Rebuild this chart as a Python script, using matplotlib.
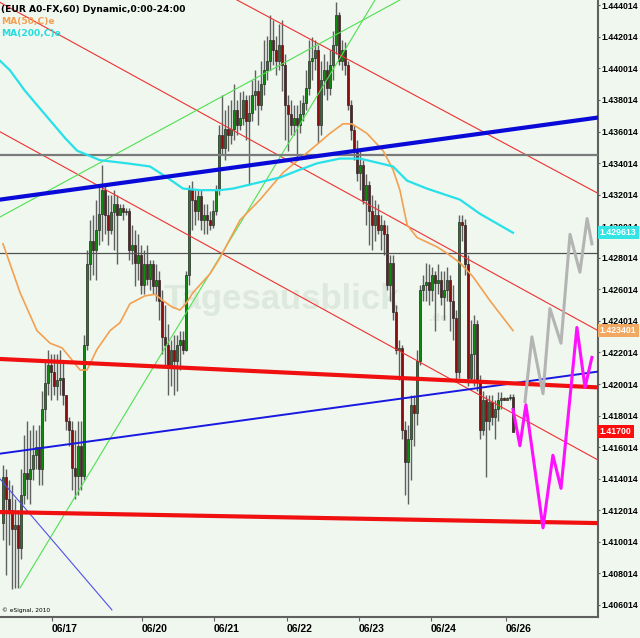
import matplotlib
matplotlib.use("Agg")
import matplotlib.pyplot as plt
import matplotlib.transforms as mtransforms

# hourly EUR/USD candles, one per hour (x = candle index)
first_open = 1.4112
closes = [1.4141, 1.4127, 1.4120, 1.4108, 1.4111, 1.4096, 1.4130, 1.4144, 1.4140, 1.4146,
          1.4155, 1.4160, 1.4146, 1.4184, 1.4201, 1.4212, 1.4208, 1.4199, 1.4203, 1.4204,
          1.4193, 1.4177, 1.4171, 1.4147, 1.4142, 1.4161, 1.4142, 1.4225, 1.4276, 1.4291,
          1.4285, 1.4298, 1.4308, 1.4323, 1.4307, 1.4298, 1.4309, 1.4314, 1.4307, 1.4312,
          1.4309, 1.4310, 1.4285, 1.4288, 1.4277, 1.4282, 1.4263, 1.4276, 1.4267, 1.4276,
          1.4262, 1.4266, 1.4253, 1.4230, 1.4225, 1.4211, 1.4222, 1.4215, 1.4225, 1.4228,
          1.4222, 1.4269, 1.4323, 1.4317, 1.4310, 1.4319, 1.4304, 1.4307, 1.4304, 1.4301,
          1.4310, 1.4323, 1.4358, 1.4350, 1.4362, 1.4358, 1.4362, 1.4374, 1.4364, 1.4369,
          1.4380, 1.4367, 1.4372, 1.4383, 1.4386, 1.4377, 1.4390, 1.4399, 1.4405, 1.4418,
          1.4412, 1.4405, 1.4415, 1.4402, 1.4377, 1.4371, 1.4364, 1.4369, 1.4364, 1.4371,
          1.4378, 1.4388, 1.4405, 1.4407, 1.4412, 1.4364, 1.4393, 1.4399, 1.4388, 1.4402,
          1.4415, 1.4434, 1.4405, 1.4412, 1.4402, 1.4377, 1.4361, 1.4348, 1.4334, 1.4339,
          1.4317, 1.4326, 1.4310, 1.4301, 1.4307, 1.4298, 1.4301, 1.4295, 1.4263, 1.4277,
          1.4246, 1.4222, 1.4223, 1.4171, 1.4151, 1.4165, 1.4187, 1.4182, 1.4215, 1.4260,
          1.4263, 1.4265, 1.4260, 1.4269, 1.4264, 1.4266, 1.4255, 1.4260, 1.4266, 1.4253,
          1.4242, 1.4208, 1.4303, 1.4301, 1.4276, 1.4204, 1.4219, 1.4238, 1.4203, 1.4171,
          1.4190, 1.4177, 1.4189, 1.4179, 1.4184, 1.4190, 1.4191, 1.4190, 1.4191, 1.4192, 1.4170]
highs = [1.4149, 1.4146, 1.4139, 1.4136, 1.4127, 1.4120, 1.4146, 1.4168, 1.4177, 1.4171,
         1.4174, 1.4171, 1.4174, 1.4196, 1.4215, 1.4222, 1.4219, 1.4219, 1.4219, 1.4222,
         1.4215, 1.4193, 1.4179, 1.4177, 1.4171, 1.4177, 1.4177, 1.4231, 1.4285, 1.4304,
         1.4307, 1.4317, 1.4326, 1.4339, 1.4326, 1.4320, 1.4320, 1.4323, 1.4320, 1.4314,
         1.4314, 1.4312, 1.4312, 1.4301, 1.4298, 1.4295, 1.4288, 1.4285, 1.4288, 1.4279,
         1.4279, 1.4276, 1.4272, 1.4260, 1.4250, 1.4238, 1.4228, 1.4231, 1.4231, 1.4234,
         1.4234, 1.4272, 1.4326, 1.4329, 1.4323, 1.4323, 1.4323, 1.4314, 1.4314, 1.4310,
         1.4317, 1.4326, 1.4364, 1.4383, 1.4374, 1.4377, 1.4380, 1.4390, 1.4380, 1.4385,
         1.4386, 1.4383, 1.4383, 1.4393, 1.4399, 1.4393, 1.4405, 1.4418, 1.4421, 1.4434,
         1.4431, 1.4421, 1.4428, 1.4431, 1.4409, 1.4383, 1.4380, 1.4377, 1.4377, 1.4380,
         1.4383, 1.4399, 1.4418, 1.4420, 1.4418, 1.4415, 1.4405, 1.4409, 1.4405, 1.4412,
         1.4424, 1.4442, 1.4436, 1.4418, 1.4417, 1.4405, 1.4380, 1.4364, 1.4355, 1.4348,
         1.4342, 1.4333, 1.4329, 1.4320, 1.4317, 1.4314, 1.4307, 1.4304, 1.4301, 1.4282,
         1.4282, 1.4250, 1.4228, 1.4225, 1.4177, 1.4174, 1.4193, 1.4193, 1.4222, 1.4263,
         1.4269, 1.4277, 1.4276, 1.4274, 1.4272, 1.4276, 1.4272, 1.4272, 1.4274, 1.4269,
         1.4263, 1.4247, 1.4307, 1.4307, 1.4305, 1.4282, 1.4241, 1.4244, 1.4241, 1.4206,
         1.4196, 1.4193, 1.4193, 1.4193, 1.4190, 1.4195, 1.4195, 1.4192, 1.4192, 1.4194, 1.4194]
lows = [1.4101, 1.4079, 1.4098, 1.4070, 1.4071, 1.4071, 1.4089, 1.4124, 1.4127, 1.4124,
        1.4139, 1.4146, 1.4136, 1.4136, 1.4177, 1.4193, 1.4190, 1.4193, 1.4190, 1.4193,
        1.4187, 1.4171, 1.4161, 1.4133, 1.4127, 1.4130, 1.4133, 1.4139, 1.4222, 1.4266,
        1.4269, 1.4266, 1.4288, 1.4291, 1.4295, 1.4288, 1.4295, 1.4285, 1.4276, 1.4307,
        1.4304, 1.4307, 1.4279, 1.4276, 1.4262, 1.4266, 1.4257, 1.4257, 1.4263, 1.4260,
        1.4257, 1.4253, 1.4241, 1.4219, 1.4212, 1.4193, 1.4199, 1.4193, 1.4196, 1.4209,
        1.4219, 1.4221, 1.4263, 1.4298, 1.4301, 1.4304, 1.4298, 1.4295, 1.4295, 1.4298,
        1.4299, 1.4307, 1.4320, 1.4345, 1.4342, 1.4348, 1.4352, 1.4355, 1.4358, 1.4361,
        1.4364, 1.4355, 1.4326, 1.4367, 1.4374, 1.4364, 1.4374, 1.4383, 1.4393, 1.4399,
        1.4402, 1.4396, 1.4399, 1.4386, 1.4355, 1.4348, 1.4358, 1.4358, 1.4343, 1.4359,
        1.4367, 1.4374, 1.4383, 1.4393, 1.4399, 1.4353, 1.4358, 1.4383, 1.4380, 1.4383,
        1.4393, 1.4409, 1.4402, 1.4399, 1.4396, 1.4374, 1.4355, 1.4342, 1.4329, 1.4323,
        1.4314, 1.4301, 1.4288, 1.4285, 1.4291, 1.4295, 1.4285, 1.4282, 1.4260, 1.4253,
        1.4241, 1.4219, 1.4203, 1.4165, 1.4130, 1.4124, 1.4139, 1.4161, 1.4174, 1.4212,
        1.4253, 1.4253, 1.4250, 1.4253, 1.4234, 1.4257, 1.4250, 1.4241, 1.4253, 1.4234,
        1.4228, 1.4203, 1.4204, 1.4291, 1.4269, 1.4199, 1.4203, 1.4199, 1.4196, 1.4165,
        1.4168, 1.4141, 1.4171, 1.4174, 1.4165, 1.4177, 1.4184, 1.4190, 1.4190, 1.4190, 1.4170]

# moving averages (candle index, price)
ma50_x = [0, 5.7, 11.3, 15.7, 19.7, 22.3, 25.7, 28, 31.3, 35.7, 39, 42.3, 47.3, 50.7, 53.3,
          56.3, 59, 61.3, 63.3, 69, 72.3, 79, 85.7, 93.3, 99, 104.7, 109, 113.3, 116.3,
          121.3, 126.7, 130, 132.3, 134.7, 138, 144.7, 148, 152.3, 156.7, 162.3, 170]
ma50_y = [1.4289, 1.4258, 1.4234, 1.4226, 1.4223, 1.4217, 1.4209, 1.4209, 1.4222, 1.4234,
          1.4239, 1.4251, 1.4256, 1.4257, 1.4253, 1.4249, 1.4247, 1.4252, 1.4258, 1.4270,
          1.4280, 1.4304, 1.4317, 1.4334, 1.4343, 1.4352, 1.4359, 1.4365, 1.4365, 1.4359,
          1.4348, 1.4336, 1.4323, 1.4301, 1.4293, 1.4287, 1.4283, 1.4277, 1.4268, 1.4253, 1.4234]
ma200_x = [-1, 2.3, 7.3, 14, 20.7, 24.7, 32.3, 41.3, 49, 54.7, 60, 65.7, 72.3, 76.7, 83.3,
           92.3, 99, 104.7, 112.3, 119, 125.7, 130, 134.7, 141.3, 152.3, 159, 170]
ma200_y = [1.4405, 1.4399, 1.4386, 1.4371, 1.4356, 1.4348, 1.4342, 1.4340, 1.4338, 1.4331,
           1.4324, 1.4323, 1.4323, 1.4324, 1.4327, 1.4331, 1.4336, 1.4340, 1.4343, 1.4343,
           1.4340, 1.4338, 1.4329, 1.4324, 1.4317, 1.4308, 1.4296]

# drawn trend lines: ((x0, p0), (x1, p1))
red_thick = [((-1, 1.4216), (198.3, 1.4198)), ((-1, 1.4119), (198.3, 1.4112))]
red_thin = [((-1, 1.4442), (198.3, 1.4234)), ((-1, 1.4360), (198.3, 1.4152)),
            ((78, 1.44435), (198.3, 1.4321))]
blue_thick = ((-1, 1.4317), (198.3, 1.4369))
blue_thin = ((-1, 1.4156), (198.3, 1.4208))
slate_line = ((-1, 1.4140), (36.3, 1.4057))
green_lines = [((-1, 1.4306), (132.3, 1.44435)), ((5.7, 1.4071), (124, 1.44435))]
hlines_gray = [1.4345, 1.4283]

# forecast paths
grey_x = [174, 176.3, 180, 182.3, 186, 189, 192.3, 194.7, 196.3]
grey_y = [1.4189, 1.4230, 1.4194, 1.4248, 1.4226, 1.4295, 1.4271, 1.4305, 1.4289]
pink_x = [170, 172.3, 174.3, 180, 183.3, 186, 191.3, 194, 196.3]
pink_y = [1.4184, 1.4161, 1.4187, 1.4109, 1.4155, 1.4134, 1.4236, 1.4198, 1.4217]

date_pos = [16.3, 46.3, 70.3, 94.7, 118.7, 142.7, 167.7]
date_labels = ["06/17", "06/20", "06/21", "06/22", "06/23", "06/24", "06/26"]
price_ticks = [1.406014 + 0.002 * k for k in range(20)]

bg = "#eff7ef"
fam = ["Liberation Sans", "DejaVu Sans"]

fig = plt.figure(figsize=(6.4, 6.38), dpi=100, facecolor=bg)
ax = fig.add_axes([0, 21 / 638, 598 / 640, 617 / 638], facecolor=bg)
ax.set_xlim(-1, 198.33)
ax.set_ylim(1.405249, 1.44435)

# watermark
ax.text(93, 1.4254, "Tagesausblick", fontsize=25, fontweight="bold", color="#dde9dd",
        ha="center", va="center", family=fam, zorder=0)
ax.text(142, 1.4242, ".de", fontsize=8, fontweight="bold", color="#dde9dd",
        ha="left", va="center", zorder=0)

# candles
opens = [first_open] + closes[:-1]
for i in range(len(closes)):
    o, c = opens[i], closes[i]
    lo = min(lows[i], o, c)
    hi = max(highs[i], o, c)
    ax.vlines(i, lo, hi, color="#606060", lw=1.0, zorder=2)
    col = "#0f8a0f" if c >= o else "#8a0c0c"
    h = abs(c - o)
    if h < 0.00004:
        h = 0.00004
    ax.bar(i, h, bottom=min(o, c), width=0.85, color=col, edgecolor="#2a2a2a",
           linewidth=0.5, zorder=3)

# trend lines
for (a, b) in red_thin:
    ax.plot([a[0], b[0]], [a[1], b[1]], color="#f03030", lw=0.8, zorder=4)
for (a, b) in green_lines:
    ax.plot([a[0], b[0]], [a[1], b[1]], color="#50e050", lw=0.8, zorder=4)
ax.plot([slate_line[0][0], slate_line[1][0]], [slate_line[0][1], slate_line[1][1]],
        color="#5050e8", lw=0.8, zorder=4)
ax.axhline(hlines_gray[0], color="#7a7a7a", lw=1.6, zorder=4)
ax.axhline(hlines_gray[1], color="#505050", lw=0.9, zorder=4)
ax.plot(ma50_x, ma50_y, color="#f4a050", lw=1.2, zorder=5)
ax.plot(ma200_x, ma200_y, color="#28e0e8", lw=1.6, zorder=5)
ax.plot([blue_thin[0][0], blue_thin[1][0]], [blue_thin[0][1], blue_thin[1][1]],
        color="#1818e0", lw=1.4, zorder=6)
ax.plot([blue_thick[0][0], blue_thick[1][0]], [blue_thick[0][1], blue_thick[1][1]],
        color="#0a0ad8", lw=3.0, zorder=6)
for (a, b) in red_thick:
    ax.plot([a[0], b[0]], [a[1], b[1]], color="#f01010", lw=3.0, zorder=6)
ax.plot(grey_x, grey_y, color="#b4b4b4", lw=2.2, zorder=7)
ax.plot(pink_x, pink_y, color="#ff10ff", lw=2.2, zorder=7)

# axes look
for s in ["left", "top"]:
    ax.spines[s].set_visible(False)
for s in ["right", "bottom"]:
    ax.spines[s].set_color("#606060")
    ax.spines[s].set_linewidth(1.5)
ax.yaxis.tick_right()
ax.set_yticks(price_ticks)
ax.set_yticklabels(["%.6f" % p for p in price_ticks])
ax.set_xticks(date_pos)
ax.set_xticklabels(date_labels)
ax.tick_params(axis="y", length=1.5, pad=0.8, labelsize=6.3, color="#606060")
ax.tick_params(axis="x", length=3, pad=2, labelsize=7.5, color="#606060")
for lbl in ax.get_yticklabels() + ax.get_xticklabels():
    lbl.set_fontweight("bold")
    lbl.set_family(fam)
for lbl in ax.get_xticklabels():
    lbl.set_ha("left")

# last value boxes on the price scale
trans = mtransforms.blended_transform_factory(ax.transAxes, ax.transData)
for val, txt, col in [(1.429613, "1.429613", "#33e4e4"), (1.423401, "1.423401", "#f2a860"),
                      (1.4170, "1.41700", "#ff0c0c")]:
    ax.text(1.003, val, txt, transform=trans, ha="left", va="center", fontsize=6.3,
            fontweight="bold", color="white", family=fam, clip_on=False, zorder=10,
            bbox=dict(facecolor=col, edgecolor="none", pad=1.6))

# header texts
ax.text(0.002, 0.992, "(EUR A0-FX,60) Dynamic,0:00-24:00", transform=ax.transAxes,
        fontsize=6.6, fontweight="bold", color="black", ha="left", va="top", zorder=10)
ax.text(0.002, 0.973, "MA(50,C)e", transform=ax.transAxes, fontsize=6.6,
        fontweight="bold", color="#f4a050", ha="left", va="top", zorder=10)
ax.text(0.002, 0.953, "MA(200,C)e", transform=ax.transAxes, fontsize=6.6,
        fontweight="bold", color="#20dde0", ha="left", va="top", zorder=10)
ax.text(0.004, 0.006, "\u00a9 eSignal, 2010", transform=ax.transAxes, fontsize=4.2,
        color="black", ha="left", va="bottom", zorder=10)

fig.savefig("out.png", dpi=100, facecolor=bg)
